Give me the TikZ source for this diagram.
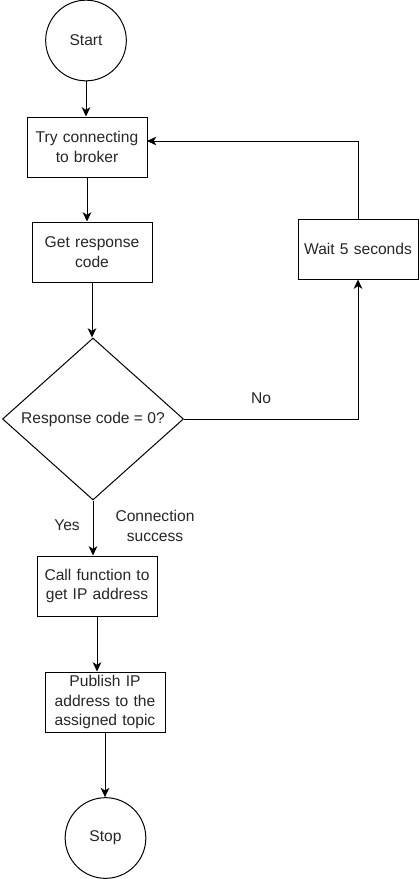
\documentclass[tikz,border=0pt]{standalone}
\usepackage{fontspec}
\setmainfont{Liberation Sans}
\usetikzlibrary{shapes.geometric,arrows.meta}
\begin{document}
\begin{tikzpicture}[x=0.75pt,y=-0.75pt,
  every node/.style={font=\fontsize{11.7pt}{14.6pt}\selectfont, text=black!85},
  procbox/.style={draw, line width=0.75pt, rectangle, minimum width=90pt, minimum height=45pt, inner sep=0pt, align=center, text width=88pt},
  termcirc/.style={draw, line width=0.75pt, circle, minimum size=60.5pt, inner sep=0pt},
  decis/.style={draw, line width=0.75pt, diamond, aspect=1.117, minimum width=135.75pt, minimum height=121.5pt, inner sep=0pt},
  flow/.style={line width=0.75pt, -{Stealth[length=7pt,width=6.5pt,inset=2pt]}},
  lbl/.style={align=center, inner sep=0pt}
]
\useasboundingbox (0,0) rectangle (419,879);
\node[termcirc] (start) at (86,40.5) {Start};
\node[procbox] (box1) at (87,147) {Try connecting\\to broker};
\node[procbox] (box2) at (92,252) {Get response\\code};
\node[decis] (dec) at (93,419) {Response code = 0?};
\node[procbox] (wait) at (358,249) {Wait 5 seconds};
\node[procbox] (box3) at (97,586) {Call function to\\get IP address};
\node[procbox] (box4) at (105,702) {Publish IP\\address to the\\assigned topic};
\node[termcirc] (stop) at (105.5,838) {Stop};
\coordinate (back) at (147,141);

\draw[flow] (start.south) -- (start.south |- box1.north);
\draw[flow] (box1.south) -- (box1.south |- box2.north);
\draw[flow] (box2.south) -- (box2.south |- dec.north);
\draw[flow] (dec.east) -| (wait.south);
\draw[flow] (wait.north) |- (back);
\draw[flow] (dec.south) -- (dec.south |- box3.north);
\draw[flow] (box3.south) -- (box3.south |- box4.north);
\draw[flow] (box4.south) -- (box4.south |- stop.north);

\node[lbl] (no) at (261,398) {No};
\node[lbl] (yes) at (67,525) {Yes};
\node[lbl] (succ) at (155,526) {Connection\\success};
\end{tikzpicture}
\end{document}
